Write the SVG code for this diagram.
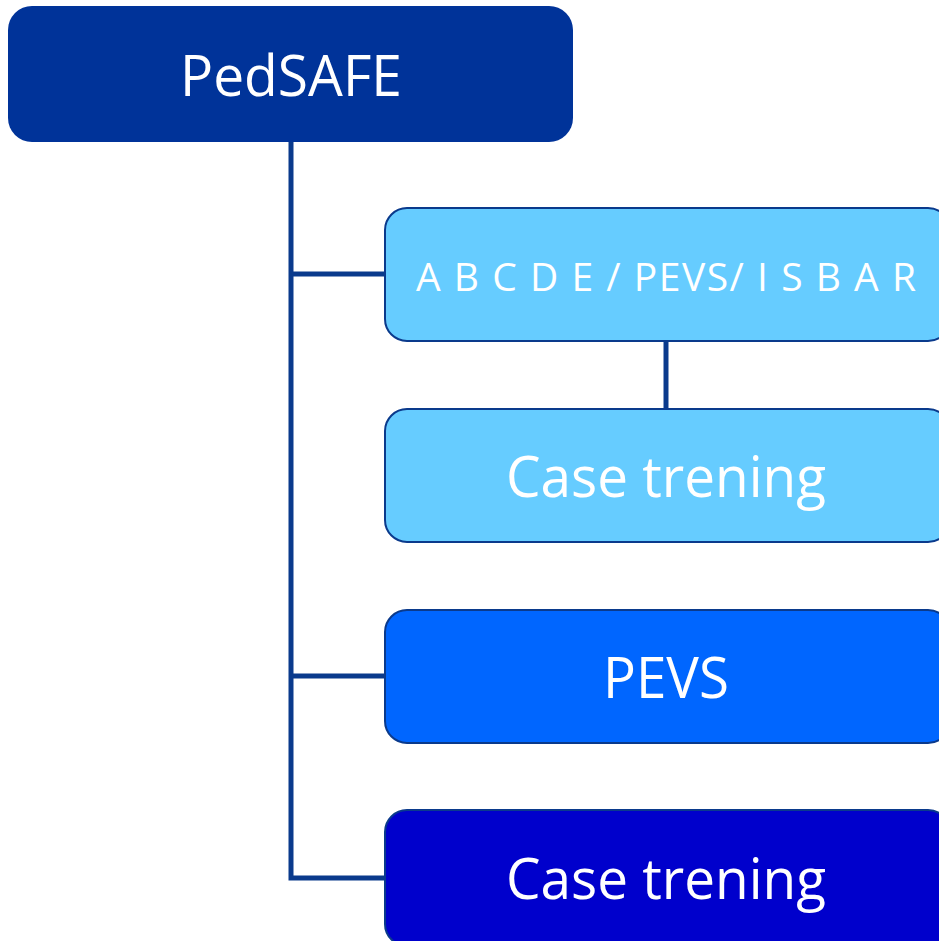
<svg xmlns="http://www.w3.org/2000/svg" width="939" height="941" viewBox="0 0 939 941">
<style>
.lbl{font-family:"Open Sans","Noto Sans","Liberation Sans",sans-serif;fill:#ffffff;text-anchor:middle}
.child{stroke:#0a3a8c;stroke-width:2}
.conn{stroke:#0a3a8c;stroke-width:5;fill:none}
</style>
<rect width="939" height="941" fill="#ffffff"/>
<g id="connectors">
<path class="conn" d="M291,141 V878 H386"/>
<path class="conn" d="M291,274 H386"/>
<path class="conn" d="M291,676 H386"/>
<path class="conn" d="M666,341 V409"/>
</g>
<g id="pedsafe">
<rect x="8" y="6" width="565" height="136" rx="24" fill="#003399"/>
<text class="lbl" x="291" y="96" font-size="57" textLength="222" lengthAdjust="spacingAndGlyphs">PedSAFE</text>
</g>
<g id="abcde">
<rect class="child" x="385" y="208" width="565" height="133" rx="22" fill="#66ccff"/>
<text class="lbl" x="666" y="291" font-size="39" textLength="500" lengthAdjust="spacing">A B C D E / PEVS/ I S B A R</text>
</g>
<g id="case1">
<rect class="child" x="385" y="409" width="565" height="133" rx="22" fill="#66ccff"/>
<text class="lbl" x="666" y="497" font-size="57" textLength="320" lengthAdjust="spacingAndGlyphs">Case trening</text>
</g>
<g id="pevs">
<rect class="child" x="385" y="610" width="565" height="133" rx="22" fill="#0066ff"/>
<text class="lbl" x="666" y="698" font-size="57" textLength="126" lengthAdjust="spacingAndGlyphs">PEVS</text>
</g>
<g id="case2">
<rect class="child" x="385" y="810" width="565" height="136" rx="22" fill="#0000cc"/>
<text class="lbl" x="666" y="899" font-size="57" textLength="320" lengthAdjust="spacingAndGlyphs">Case trening</text>
</g>
</svg>
